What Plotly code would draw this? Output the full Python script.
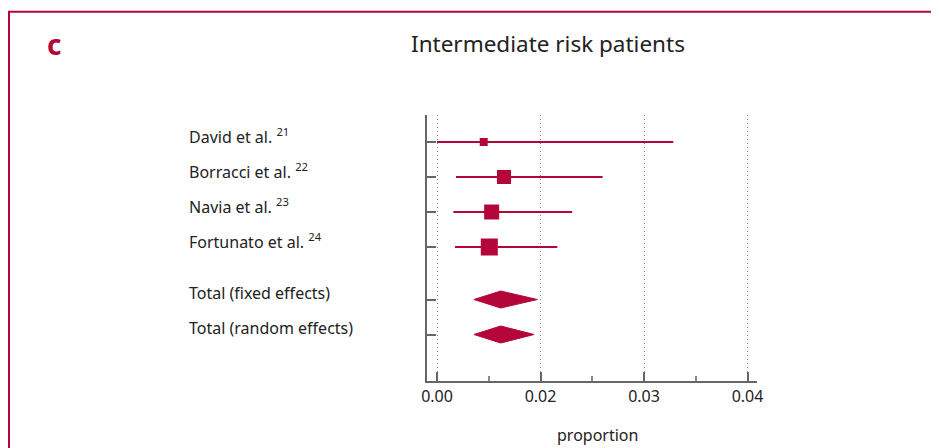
import plotly.graph_objects as go

# ---- data ----
studies = ["David et al. <sup>21</sup>", "Borracci et al. <sup>22</sup>",
           "Navia et al. <sup>23</sup>", "Fortunato et al. <sup>24</sup>"]
study_est = [0.00677, 0.00971, 0.00792, 0.00758]
study_lo = [0.0000, 0.00275, 0.00237, 0.00261]
study_hi = [0.03425, 0.02400, 0.01960, 0.01744]
study_size = [8, 14, 15, 17]

totals = ["Total (fixed effects)", "Total (random effects)"]
total_est = [0.00923, 0.00923]
total_lo = [0.00536, 0.00536]
total_hi = [0.01454, 0.01406]

row_pos_studies = [0, 1, 2, 3]
row_pos_totals = [4.5, 5.5]

tick_vals = [0.0, 0.015, 0.03, 0.045]
tick_text = ["0.00", "0.02", "0.03", "0.04"]

RED = "#B40638"
AX = "#666666"
TXT = "#222222"
FONT = "Noto Sans"

OFF = 8  # page body margin
# plot area in (page) pixels
L, R, T, B = 427 - OFF, 757 - OFF, 115 - OFF, 381 - OFF
W, H = 939, 448

fig = go.Figure()

# CI lines
for lo, hi, y in zip(study_lo, study_hi, row_pos_studies):
    fig.add_trace(go.Scatter(x=[lo, hi], y=[y, y], mode="lines",
                             line=dict(color=RED, width=2), hoverinfo="skip",
                             showlegend=False))
# squares
fig.add_trace(go.Scatter(x=study_est, y=row_pos_studies, mode="markers",
                         marker=dict(symbol="square", size=study_size, color=RED,
                                     opacity=1, line=dict(width=0)),
                         showlegend=False))
# diamonds
half_h = 8.5 / 35.0
for lo, est, hi, y in zip(total_lo, total_est, total_hi, row_pos_totals):
    fig.add_trace(go.Scatter(x=[lo, est, hi, est, lo], y=[y, y - half_h, y, y + half_h, y],
                             mode="lines", fill="toself", fillcolor=RED,
                             line=dict(color=RED, width=1), hoverinfo="skip",
                             showlegend=False))

px_per_unit = 103.5 / 0.015
x0 = -(437 - 427) / px_per_unit
x1 = x0 + (R - L) / px_per_unit
y_top = -(142 - 115) / 35.0
y_bot = (381 - 142) / 35.0

fig.update_xaxes(range=[x0, x1], tickmode="array", tickvals=tick_vals, ticktext=tick_text,
                 showline=True, linecolor=AX, linewidth=2, mirror=False,
                 ticks="inside", ticklen=9, tickwidth=2, tickcolor=AX,
                 minor=dict(ticks="inside", ticklen=5, tickwidth=1.5, tickcolor="#888",
                            tickmode="array", tickvals=[0.0075, 0.0225, 0.0375], showgrid=False),
                 showgrid=True, gridcolor="#888", griddash="1px,3px", gridwidth=1,
                 zeroline=False, tickfont=dict(family=FONT, size=16, color=TXT),
                 ticklabelstandoff=0, fixedrange=True)
fig.update_yaxes(range=[y_bot, y_top], tickmode="array",
                 tickvals=row_pos_studies + row_pos_totals, showticklabels=False,
                 showline=True, linecolor=AX, linewidth=2,
                 ticks="inside", ticklen=9, tickwidth=2, tickcolor=AX,
                 showgrid=False, zeroline=False, fixedrange=True)

def px2paper(px, py):
    # px, py given in reference-image pixels
    return (px - OFF - L) / (R - L), (B - (py - OFF)) / (B - T)

anns = []
for lab, y in zip(studies + totals, row_pos_studies + row_pos_totals):
    xp, _ = px2paper(187, 0)
    anns.append(dict(x=xp, xref="paper", y=y, yref="y", text=lab, showarrow=False,
                     xanchor="left", yanchor="middle", yshift=6 if "sup" in lab else 7,
                     font=dict(family=FONT, size=16, color=TXT)))
xp, yp = px2paper(548, 44)
anns.append(dict(x=xp, y=yp, xref="paper", yref="paper", text="Intermediate risk patients",
                 showarrow=False, xanchor="center", yanchor="middle",
                 font=dict(family=FONT, size=22.5, color=TXT)))
xp, yp = px2paper(54, 44)
anns.append(dict(x=xp, y=yp, xref="paper", yref="paper", text="<b>c</b>",
                 showarrow=False, xanchor="center", yanchor="middle",
                 font=dict(family=FONT, size=28, color=RED)))
xp, yp = px2paper(597, 435)
anns.append(dict(x=xp, y=yp, xref="paper", yref="paper", text="proportion",
                 showarrow=False, xanchor="center", yanchor="middle",
                 font=dict(family=FONT, size=16, color=TXT)))

fx0, fy0 = px2paper(9, 11.7)
fx1, fy1 = px2paper(960, 470)
fig.add_shape(type="rect", xref="paper", yref="paper", x0=fx0, x1=fx1, y0=fy1, y1=fy0,
              line=dict(color=RED, width=2), layer="below")

fig.update_layout(width=W, height=H, margin=dict(l=L, r=W - R, t=T, b=H - B),
                  paper_bgcolor="white", plot_bgcolor="white", annotations=anns,
                  font=dict(family=FONT))

fig.write_html("out.html", config={"displayModeBar": False})
